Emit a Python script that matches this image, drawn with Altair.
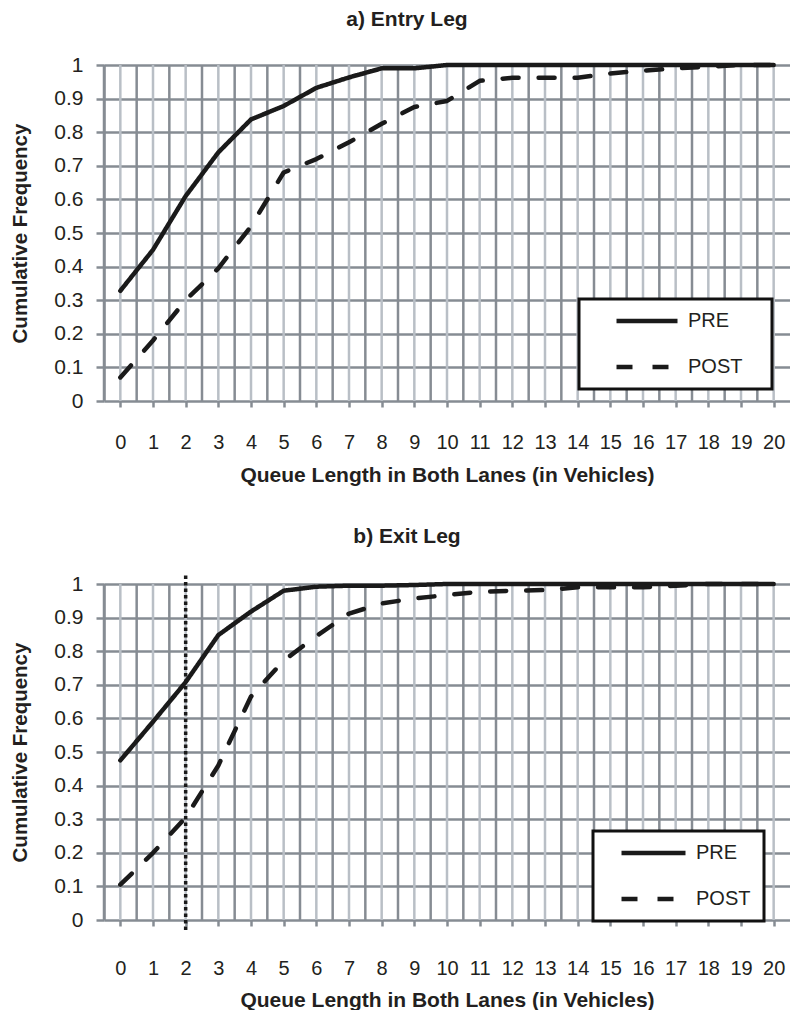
import altair as alt
import pandas as pd

# ---------------- data ----------------
queue_length = list(range(21))
series_names = ["PRE", "POST"]

entry_pre = [0.328, 0.45, 0.61, 0.74, 0.838, 0.878, 0.932, 0.963, 0.99, 0.99,
             1.0, 1.0, 1.0, 1.0, 1.0, 1.0, 1.0, 1.0, 1.0, 1.0, 1.0]
entry_post = [0.07, 0.18, 0.30, 0.395, 0.52, 0.68, 0.72, 0.77, 0.825, 0.875,
              0.893, 0.953, 0.962, 0.962, 0.962, 0.975, 0.983, 0.99, 0.995, 1.0, 1.0]

exit_pre = [0.475, 0.59, 0.708, 0.848, 0.918, 0.98, 0.992, 0.995, 0.995, 0.997,
            1.0, 1.0, 1.0, 1.0, 1.0, 1.0, 1.0, 1.0, 1.0, 1.0, 1.0]
exit_post = [0.105, 0.2, 0.305, 0.46, 0.665, 0.772, 0.845, 0.912, 0.942, 0.957,
             0.967, 0.977, 0.98, 0.982, 0.99, 0.99, 0.99, 0.995, 1.0, 1.0, 1.0]

y_ticks = [0, 0.1, 0.2, 0.3, 0.4, 0.5, 0.6, 0.7, 0.8, 0.9, 1.0]
major_grid_x = queue_length                                  # light lines at categories
minor_grid_x = [-0.5, 0.5, 1.5, 2.5, 3.5, 4.5, 5.5, 6.5, 7.5, 8.5, 9.5,
                10.5, 11.5, 12.5, 13.5, 14.5, 15.5, 16.5, 17.5, 18.5, 19.5]  # dark lines between
marker_x = [2]
marker_y = [-0.03]
marker_y2 = [1.03]

# ---------------- style ----------------
FONT = "Liberation Sans"
TXT = "#231f20"
DARK = "#868c93"
LIGHT = "#b9bfc6"
INK = "#1a1a1a"
W = 686
H = 336


def make_panel(title_text, title_offset, pre, post, leg_x, leg_y, sym_w,
               sym_offset, right_extra, label_pad, xtitle_y, with_marker):
    lines_df = pd.DataFrame({
        "x": queue_length + queue_length,
        "y": pre + post,
        "series": [series_names[0]] * len(pre) + [series_names[1]] * len(post),
    })
    light_df = pd.DataFrame({"x": major_grid_x})
    dark_df = pd.DataFrame({"x": minor_grid_x})

    x_enc = alt.X(
        "x:Q",
        scale=alt.Scale(domain=[-0.5, 20.5], nice=False, zero=False),
        axis=alt.Axis(
            values=queue_length, format="d", grid=False, domain=False,
            ticks=True, tickSize=6, tickColor=DARK, tickWidth=2.5,
            labelFont=FONT, labelFontSize=20, labelColor=TXT,
            labelPadding=label_pad, labelOverlap=False, labelFlush=False,
            title="Queue Length in Both Lanes (in Vehicles)",
            titleFont=FONT, titleFontSize=21, titleFontWeight="bold",
            titleColor=TXT, titleY=xtitle_y, titleBaseline="middle",
        ),
    )
    y_enc = alt.Y(
        "y:Q",
        scale=alt.Scale(domain=[0, 1], nice=False, zero=False),
        axis=alt.Axis(
            values=y_ticks, format=".1~f", grid=True, gridColor=DARK,
            gridWidth=2.5, domain=True, domainColor=DARK, domainWidth=2.5,
            ticks=True, tickSize=8, tickColor=DARK, tickWidth=2.5,
            labelFont=FONT, labelFontSize=21, labelColor=TXT, labelPadding=13,
            title="Cumulative Frequency", titleFont=FONT, titleFontSize=20.5,
            titleFontWeight="bold", titleColor=TXT, titleX=-84,
            titleY=H / 2, titleAngle=270, titleBaseline="middle",
        ),
    )

    light = alt.Chart(light_df).mark_rule(color=LIGHT, strokeWidth=2.5).encode(x=x_enc)
    dark = alt.Chart(dark_df).mark_rule(color=DARK, strokeWidth=2.5).encode(x=x_enc)

    lines = alt.Chart(lines_df).mark_line(
        color=INK, strokeWidth=4.5, strokeCap="round", strokeJoin="round"
    ).encode(
        x=x_enc,
        y=y_enc,
        strokeDash=alt.StrokeDash(
            "series:N",
            scale=alt.Scale(domain=series_names, range=[[1, 0], [16, 20]]),
            legend=alt.Legend(
                title="\u00a0", titleOrient="right", titleFontSize=1,
                titlePadding=right_extra,
                orient="none", legendX=leg_x, legendY=leg_y,
                padding=7, clipHeight=30, rowPadding=16,
                symbolType="stroke", symbolSize=sym_w * sym_w,
                symbolStrokeWidth=4.5, symbolStrokeColor=INK,
                symbolOffset=sym_offset, labelOffset=8,
                labelFont=FONT, labelFontSize=20, labelColor=TXT,
                strokeColor="#111111", fillColor="white",
            ),
        ),
        order="x:Q",
    )

    layers = [light, dark, lines]
    if with_marker:
        marker_df = pd.DataFrame({"x": marker_x, "y": marker_y, "y2": marker_y2})
        marker = alt.Chart(marker_df).mark_rule(
            color=INK, strokeWidth=3.5, strokeDash=[3.5, 3]
        ).encode(x=x_enc, y=y_enc, y2="y2:Q")
        layers.insert(2, marker)

    return alt.layer(*layers).properties(
        width=W,
        height=H,
        title=alt.TitleParams(
            title_text, font=FONT, fontSize=21, fontWeight="bold", color=TXT,
            anchor="middle", dx=-40, offset=title_offset,
        ),
    )


panel_a = make_panel("a) Entry Leg", 24, entry_pre, entry_post,
                     475, 234, 61, 28, 23, 25, 74, False)
panel_b = make_panel("b) Exit Leg", 25, exit_pre, exit_post,
                     489, 247, 64, 19, 7, 32, 80, True)

chart = (
    alt.vconcat(panel_a, panel_b, spacing=41)
    .resolve_scale(strokeDash="independent")
    .resolve_legend(strokeDash="independent")
    .configure_view(stroke=None)
    .configure_legend(strokeWidth=3)
    .properties(padding={"left": 2, "top": 1, "right": 0, "bottom": 0})
)

chart.save("out.html", embed_options={"renderer": "svg", "actions": False})
